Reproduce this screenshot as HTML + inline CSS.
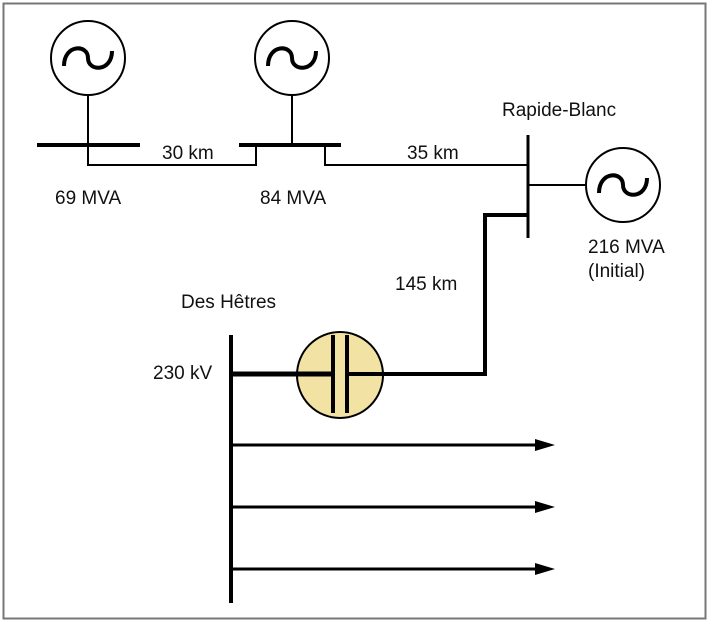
<!DOCTYPE html>
<html><head><style>
html,body{margin:0;padding:0;background:#fff;}
svg text{font-family:"Liberation Sans",sans-serif;font-size:19px;fill:#111;}
</style></head><body>
<svg width="710" height="622" viewBox="0 0 710 622" xmlns="http://www.w3.org/2000/svg">
<rect x="3.5" y="3.5" width="702" height="615" fill="#fff" stroke="#777" stroke-width="2"/>
<g fill="none" stroke="#000">
<circle cx="88" cy="58" r="37" stroke-width="2"/>
<path d="M64 66 C64 44 88 44 88 58 C88 72 112 72 112 51" stroke-width="4"/>
<line x1="88" y1="95" x2="88" y2="145" stroke-width="2"/>
<line x1="37" y1="145" x2="140" y2="145" stroke-width="4"/>
<polyline points="88,145 88,165 256,165 256,145" stroke-width="2"/>
<circle cx="292" cy="58" r="37" stroke-width="2"/>
<path d="M268 66 C268 44 292 44 292 58 C292 72 316 72 316 51" stroke-width="4"/>
<line x1="292" y1="95" x2="292" y2="145" stroke-width="2"/>
<line x1="239" y1="145" x2="341" y2="145" stroke-width="4"/>
<polyline points="325,145 325,165 528,165" stroke-width="2"/>
<line x1="528" y1="135" x2="528" y2="238" stroke-width="3"/>
<line x1="528" y1="185" x2="586" y2="185" stroke-width="2"/>
<circle cx="623" cy="185" r="37" stroke-width="2"/>
<path d="M599 193 C599 171 623 171 623 185 C623 199 647 199 647 178" stroke-width="4"/>
<polyline points="528,215 485,215 485,374 380,374" stroke-width="4"/>
<circle cx="340" cy="375" r="43" fill="#f2e3a4" stroke-width="2"/>
<line x1="231" y1="374" x2="333" y2="374" stroke-width="5"/>
<line x1="347" y1="374" x2="383" y2="374" stroke-width="4"/>
<line x1="333" y1="335" x2="333" y2="413" stroke-width="4"/>
<line x1="347" y1="335" x2="347" y2="413" stroke-width="4"/>
<line x1="231" y1="335" x2="231" y2="603" stroke-width="4"/>
<line x1="231" y1="445" x2="537" y2="445" stroke-width="3"/>
<line x1="231" y1="507" x2="537" y2="507" stroke-width="3"/>
<line x1="231" y1="569" x2="537" y2="569" stroke-width="3"/>
</g>
<g fill="#000">
<polygon points="535,439 555,445 535,451"/>
<polygon points="535,501 555,507 535,513"/>
<polygon points="535,563 555,569 535,575"/>
</g>
<text x="162" y="159">30 km</text>
<text x="55" y="204">69 MVA</text>
<text x="260" y="204">84 MVA</text>
<text x="407" y="159">35 km</text>
<text x="502" y="116">Rapide-Blanc</text>
<text x="588" y="253">216 MVA</text>
<text x="588" y="277">(Initial)</text>
<text x="395" y="290">145 km</text>
<text x="181" y="308">Des Hêtres</text>
<text x="153" y="379">230 kV</text>
</svg>
</body></html>
